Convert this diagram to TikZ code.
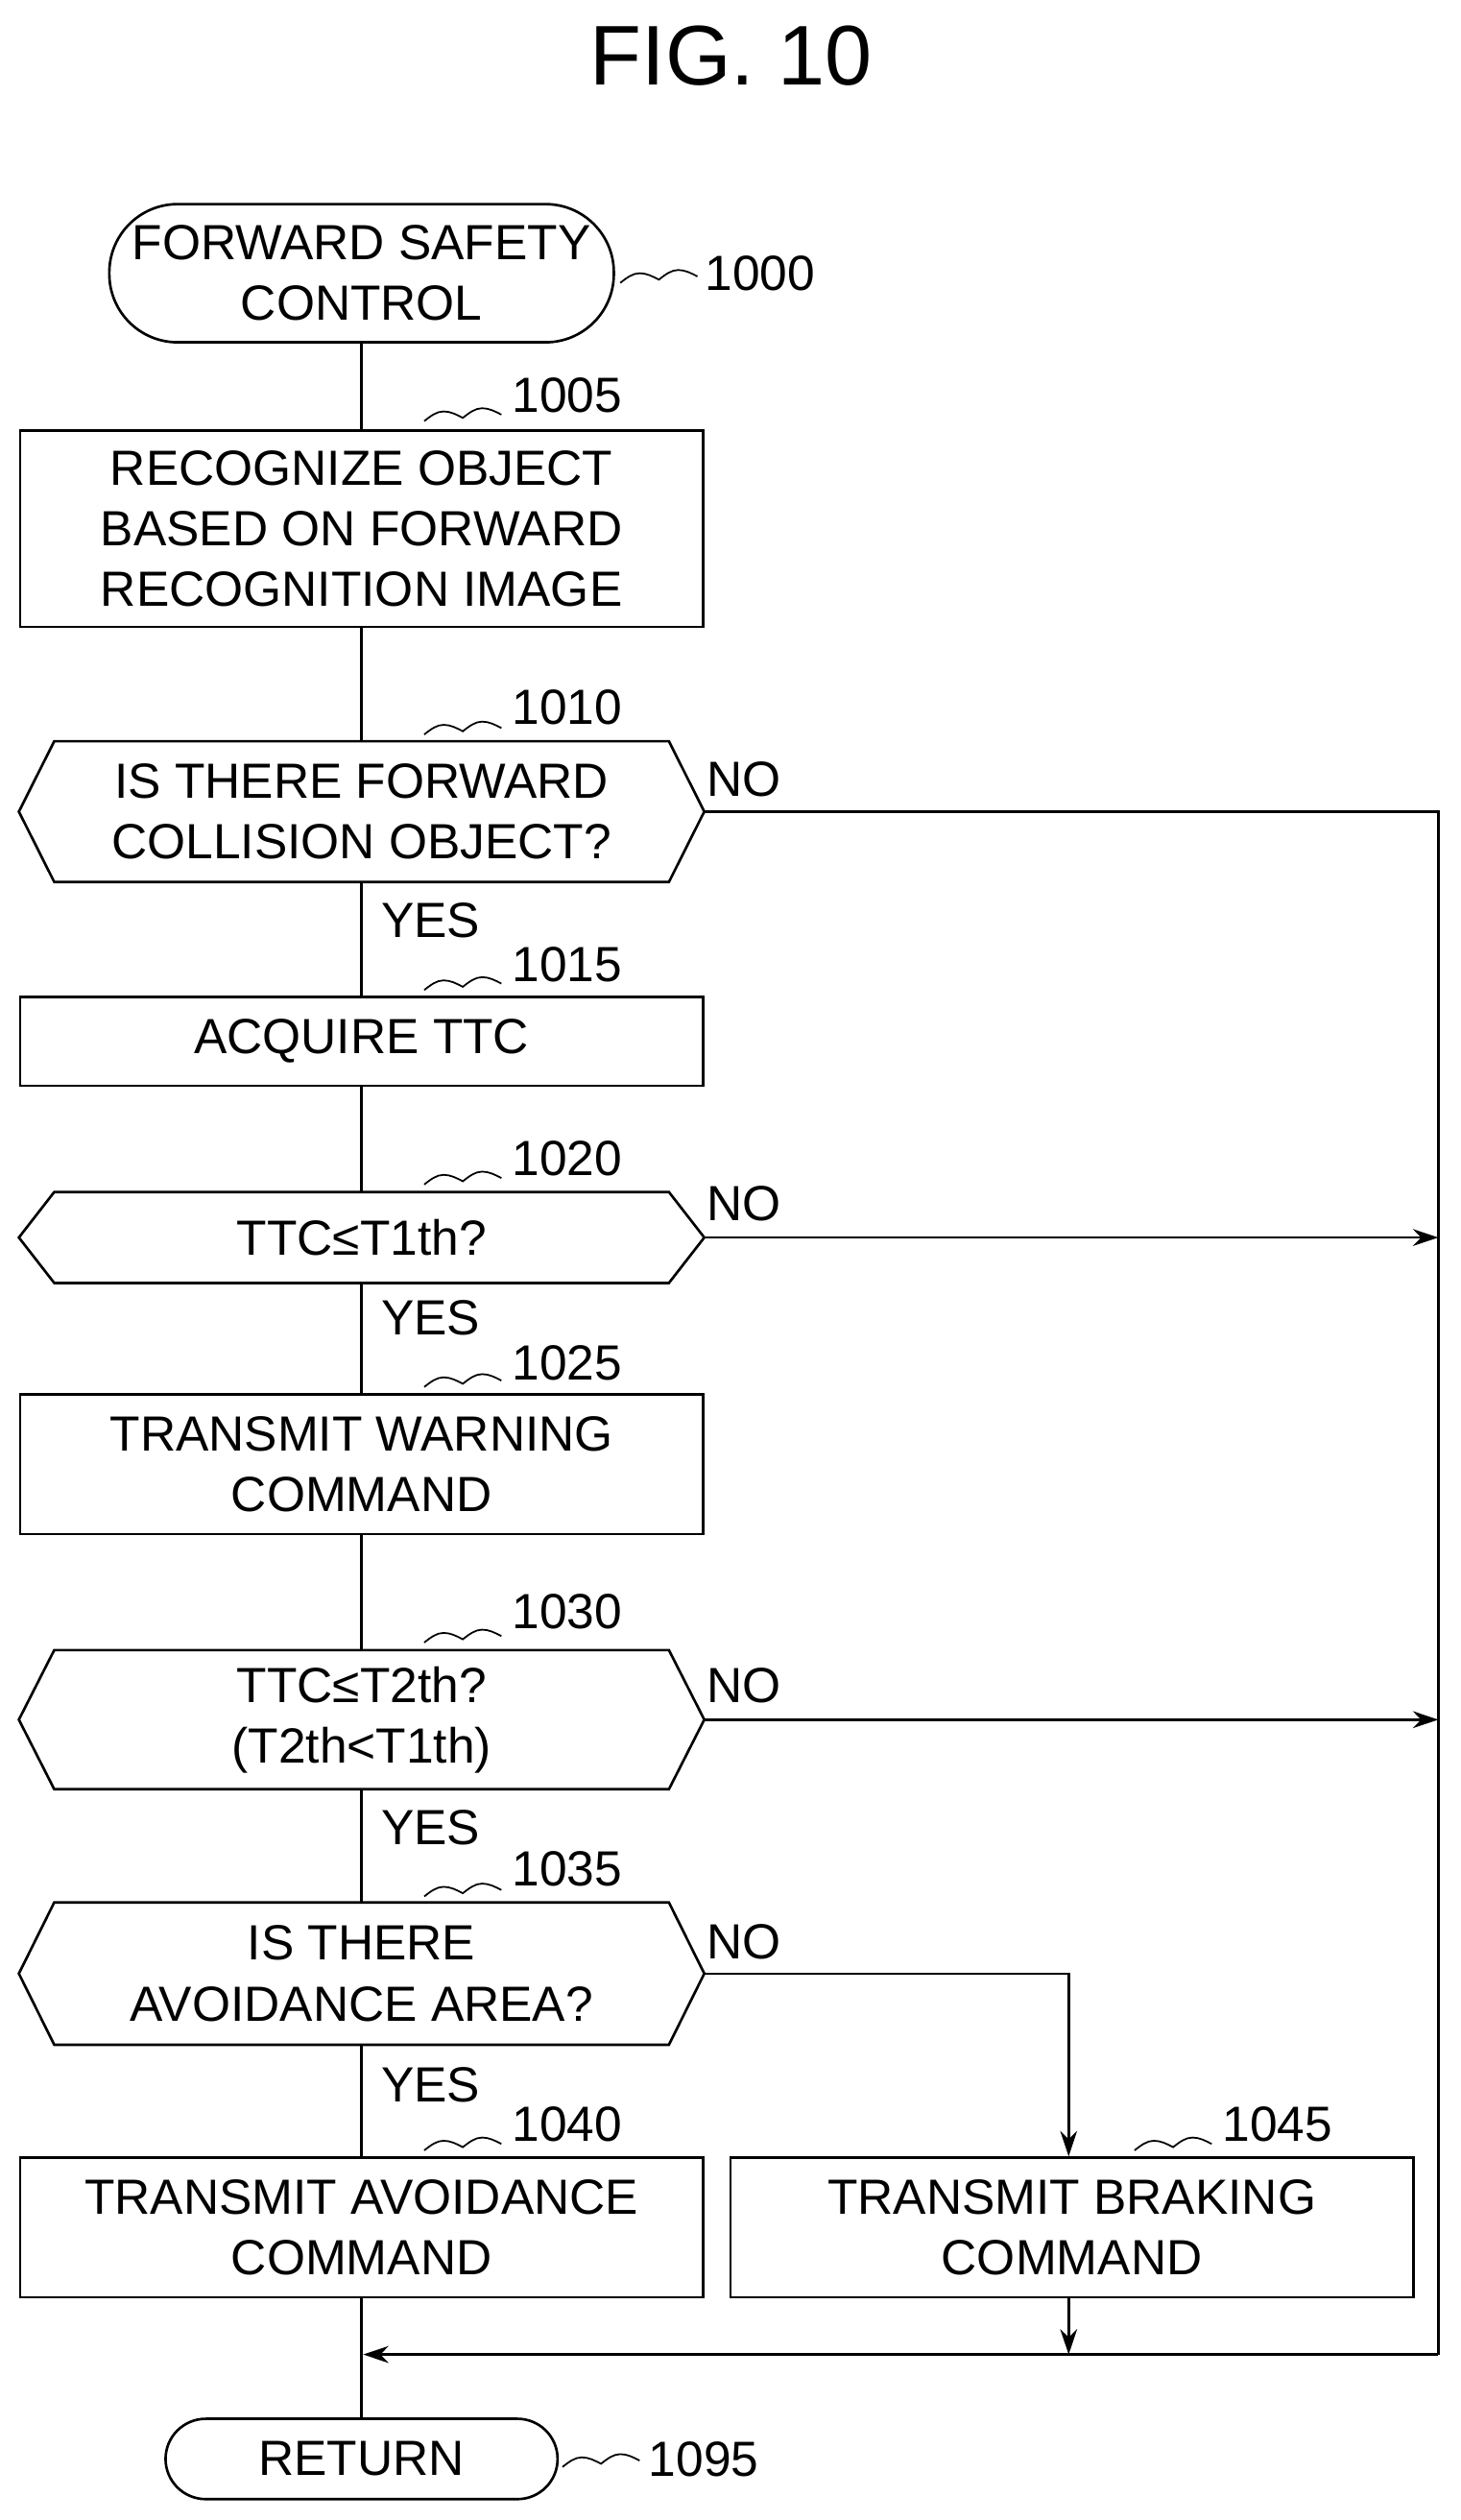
\documentclass[tikz,border=0pt]{standalone}
\usepackage{fontspec}
\setmainfont{Liberation Sans}
\usetikzlibrary{arrows.meta}
\begin{document}
\begin{tikzpicture}[x=0.02cm,y=-0.02cm,line width=0.9pt,
  txt/.style={font=\fontsize{17.5}{21.5}\selectfont,align=center,inner sep=0},
  lbl/.style={font=\fontsize{17.5}{21.5}\selectfont,anchor=west,inner sep=0},
  box/.style={draw,minimum width=8.5cm,align=center,font=\fontsize{17.5}{21.5}\selectfont,inner sep=0},
  term/.style={draw,rounded corners=0.85cm,align=center,font=\fontsize{17.5}{21.5}\selectfont,inner sep=0},
  hexn/.style={minimum width=8.5cm,align=center,font=\fontsize{17.5}{21.5}\selectfont,inner sep=0},
  arr/.style={-{Stealth[length=9pt,width=6pt]}}]
\useasboundingbox (0,0) rectangle (909,1568);
\newcommand\sq[1]{\draw[line width=0.6pt] (#1) sin ++(12,-6) cos ++(12,4) sin ++(12,-6) cos ++(12,4);}
\newcommand\hex[1]{\draw (#1.west) -- ([xshift=0.44cm]#1.north west) -- ([xshift=-0.44cm]#1.north east) -- (#1.east) -- ([xshift=-0.44cm]#1.south east) -- ([xshift=0.44cm]#1.south west) -- cycle;}
\node[font=\fontsize{30}{34}\selectfont] (title) at (455,35) {FIG. 10};
% start
\node[term,minimum width=6.28cm,minimum height=1.72cm] (s) at (225,170) {FORWARD SAFETY\\CONTROL};
\coordinate (s1) at (386,176); \sq{s1}
\node[lbl] (l1000) at (438,170) {1000};
% 1005
\node[box,minimum height=2.44cm] (b1) at (225,329) {RECOGNIZE OBJECT\\BASED ON FORWARD\\RECOGNITION IMAGE};
\coordinate (q1) at (264,262); \sq{q1}
\node[lbl] (l1005) at (318,246) {1005};
% 1010
\node[hexn,minimum height=1.72cm] (d1) at (225,505) {IS THERE FORWARD\\COLLISION OBJECT?}; \hex{d1}
\coordinate (q2) at (264,457); \sq{q2}
\node[lbl] (l1010) at (318,440) {1010};
\node[txt] (no1) at (463,485) {NO};
\node[txt] (y1) at (268,573) {YES};
% 1015
\node[box,minimum height=1.1cm] (b2) at (225,648) {ACQUIRE TTC};
\coordinate (q3) at (264,616); \sq{q3}
\node[lbl] (l1015) at (318,600) {1015};
% 1020
\node[hexn,minimum height=1.1cm] (d2) at (225,770) {TTC≤T1th?}; \hex{d2}
\coordinate (q4) at (264,737); \sq{q4}
\node[lbl] (l1020) at (318,721) {1020};
\node[txt] (no2) at (463,749) {NO};
\node[txt] (y2) at (268,820) {YES};
% 1025
\node[box,minimum height=1.74cm] (b3) at (225,911) {TRANSMIT WARNING\\COMMAND};
\coordinate (q5) at (264,863); \sq{q5}
\node[lbl] (l1025) at (318,848) {1025};
% 1030
\node[hexn,minimum height=1.7cm] (d3) at (225,1070) {TTC≤T2th?\\(T2th<T1th)}; \hex{d3}
\coordinate (q6) at (264,1022); \sq{q6}
\node[lbl] (l1030) at (318,1003) {1030};
\node[txt] (no3) at (463,1049) {NO};
\node[txt] (y3) at (268,1137) {YES};
% 1035
\node[hexn,minimum height=1.74cm] (d4) at (225,1228) {IS THERE\\AVOIDANCE AREA?}; \hex{d4}
\coordinate (q7) at (264,1180); \sq{q7}
\node[lbl] (l1035) at (318,1163) {1035};
\node[txt] (no4) at (463,1208) {NO};
\node[txt] (y4) at (268,1297) {YES};
% 1040 / 1045
\node[box,minimum height=1.74cm] (b4) at (225,1386) {TRANSMIT AVOIDANCE\\COMMAND};
\coordinate (q8) at (264,1338); \sq{q8}
\node[lbl] (l1040) at (318,1322) {1040};
\node[box,minimum height=1.74cm] (b5) at (667,1386) {TRANSMIT BRAKING\\COMMAND};
\coordinate (q9) at (706,1338); \sq{q9}
\node[lbl] (l1045) at (760,1322) {1045};
% return
\node[term,minimum width=4.88cm,minimum height=1.0cm,rounded corners=0.5cm] (r) at (225,1530) {RETURN};
\coordinate (q10) at (350,1535); \sq{q10}
\node[lbl] (l1095) at (403,1530) {1095};
% connectors
\coordinate (rt) at (895,505);
\coordinate (rb) at (895,1465);
\coordinate (mj) at (226,1465);
\coordinate (bj) at (665,1465);
\coordinate (nj) at (665,1228);
\draw (s) -- (b1); \draw (b1) -- (d1); \draw (d1) -- (b2); \draw (b2) -- (d2);
\draw (d2) -- (b3); \draw (b3) -- (d3); \draw (d3) -- (d4); \draw (d4) -- (b4);
\draw (b4) -- (r);
\draw (d1.east) -- (rt) -- (rb);
\draw[arr] (d2.east) -- (d2.east -| rt);
\draw[arr] (d3.east) -- (d3.east -| rt);
\draw[arr] (d4.east) -- (nj) -- (b5.north -| nj);
\draw[arr] (b5.south -| nj) -- (bj);
\draw[arr] (rb) -- (mj);
\end{tikzpicture}
\end{document}
